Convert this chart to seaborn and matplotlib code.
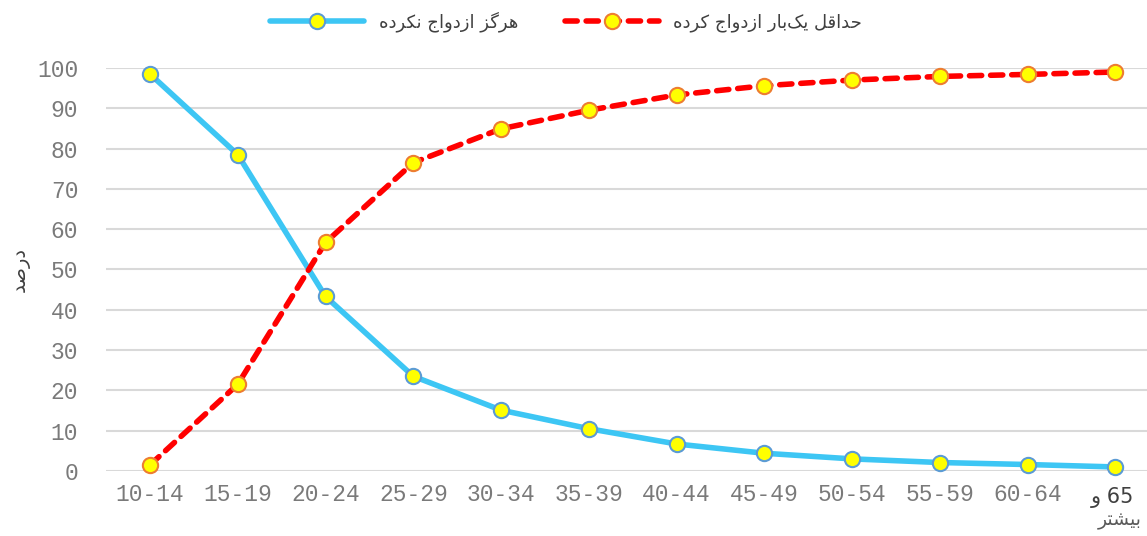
import pandas as pd
import matplotlib.pyplot as plt
import seaborn as sns

# Data
age_groups = ["10-14", "15-19", "20-24", "25-29", "30-34", "35-39",
              "40-44", "45-49", "50-54", "55-59", "60-64", "65+"]
never_married = [98.5, 78.5, 43.3, 23.5, 15.1, 10.5, 6.7, 4.4, 3.0, 2.1, 1.6, 1.0]
ever_married = [1.5, 21.5, 56.7, 76.5, 84.9, 89.5, 93.3, 95.6, 97.0, 97.9, 98.4, 99.0]

label_never = "هرگز ازدواج نکرده"
label_ever = "حداقل یک\u200cبار ازدواج کرده"
y_label = "درصد"
last_tick = ("65 و", "بیشتر")

# minimal Persian shaping (matplotlib has no text shaping)
FORMS = {  # iso, fin, ini, med
    "ا": (0xFE8D, 0xFE8E, None, None), "د": (0xFEA9, 0xFEAA, None, None),
    "ر": (0xFEAD, 0xFEAE, None, None), "ز": (0xFEAF, 0xFEB0, None, None),
    "و": (0xFEED, 0xFEEE, None, None),
    "ب": (0xFE8F, 0xFE90, 0xFE91, 0xFE92), "ت": (0xFE95, 0xFE96, 0xFE97, 0xFE98),
    "ج": (0xFE9D, 0xFE9E, 0xFE9F, 0xFEA0), "ح": (0xFEA1, 0xFEA2, 0xFEA3, 0xFEA4),
    "ش": (0xFEB5, 0xFEB6, 0xFEB7, 0xFEB8), "ص": (0xFEB9, 0xFEBA, 0xFEBB, 0xFEBC),
    "ق": (0xFED5, 0xFED6, 0xFED7, 0xFED8), "ل": (0xFEDD, 0xFEDE, 0xFEDF, 0xFEE0),
    "ن": (0xFEE5, 0xFEE6, 0xFEE7, 0xFEE8), "ه": (0xFEE9, 0xFEEA, 0xFEEB, 0xFEEC),
    "ک": (0xFB8E, 0xFB8F, 0xFB90, 0xFB91), "گ": (0xFB92, 0xFB93, 0xFB94, 0xFB95),
    "ی": (0xFBFC, 0xFBFD, 0xFBFE, 0xFBFF),
}


def shape_word(word):
    out = []
    for i, ch in enumerate(word):
        if ch not in FORMS:
            if ch != "\u200c":
                out.append(ch)
            continue
        prev = word[i - 1] if i > 0 else ""
        nxt = word[i + 1] if i + 1 < len(word) else ""
        join_prev = prev in FORMS and FORMS[prev][2] is not None
        join_next = nxt in FORMS and FORMS[ch][2] is not None
        iso, fin, ini, med = FORMS[ch]
        if join_prev and join_next:
            code = med
        elif join_prev:
            code = fin
        elif join_next:
            code = ini
        else:
            code = iso
        out.append(chr(code))
    return "".join(out)[::-1]


def rtl(text):
    tokens = text.split(" ")
    tokens = [t if t.isdigit() else shape_word(t) for t in tokens]
    return " ".join(tokens[::-1])


df = pd.DataFrame({"age": age_groups, "never": never_married, "ever": ever_married})
df["pos"] = range(len(df))

plt.figure(figsize=(11.47, 5.36), dpi=100)
ax = plt.axes([0.0925, 0.1213, 0.9075, 0.7519])
sns.set_style("white")

sns.lineplot(x="pos", y="never", data=df, color="#3DC6F4", lw=4,
             marker="o", markersize=11, markerfacecolor="#FFFF00",
             markeredgecolor="#5B9BD5", markeredgewidth=1.5,
             label=rtl(label_never), ax=ax, clip_on=False, zorder=3)
sns.lineplot(x="pos", y="ever", data=df, color="#FF0000", lw=4,
             linestyle=(0, (2.2, 1.6)), dash_capstyle="round",
             marker="o", markersize=11, markerfacecolor="#FFFF00",
             markeredgecolor="#ED7D31", markeredgewidth=1.5,
             label=rtl(label_ever), ax=ax, clip_on=False, zorder=3)

ax.set_xlim(-0.5, 11.36)
ax.set_ylim(0, 100)
ax.set_yticks(range(0, 101, 10))
ax.set_xticks(df["pos"])
ax.set_xticklabels(age_groups[:-1] + [""])
ax.grid(axis="y", color="#D9D9D9", lw=1.5)
ax.set_axisbelow(True)
for s in ax.spines.values():
    s.set_visible(False)
ax.tick_params(axis="both", length=0, labelcolor="#7A7A7A", labelsize=16.5)
ax.tick_params(axis="y", pad=20)
ax.tick_params(axis="x", pad=9)
for t in ax.get_xticklabels() + ax.get_yticklabels():
    t.set_fontfamily("Liberation Mono")

ax.text(10.97, -4.0, rtl(last_tick[0]), ha="center", va="top", fontsize=15,
        color="#404040", family="DejaVu Sans")
ax.text(11.05, -10.0, rtl(last_tick[1]), ha="center", va="top", fontsize=13.5,
        color="#595959", family="DejaVu Sans")

ax.set_xlabel("")
ax.set_ylabel(rtl(y_label), fontsize=14, color="#404040", labelpad=5,
              family="DejaVu Sans")

leg = ax.legend(loc="center", bbox_to_anchor=(0.442, 1.114), ncol=2,
                frameon=False, fontsize=13, handlelength=5.2, columnspacing=2.6)
for t in leg.get_texts():
    t.set_color("#404040")

plt.savefig("out.png", dpi=100)
